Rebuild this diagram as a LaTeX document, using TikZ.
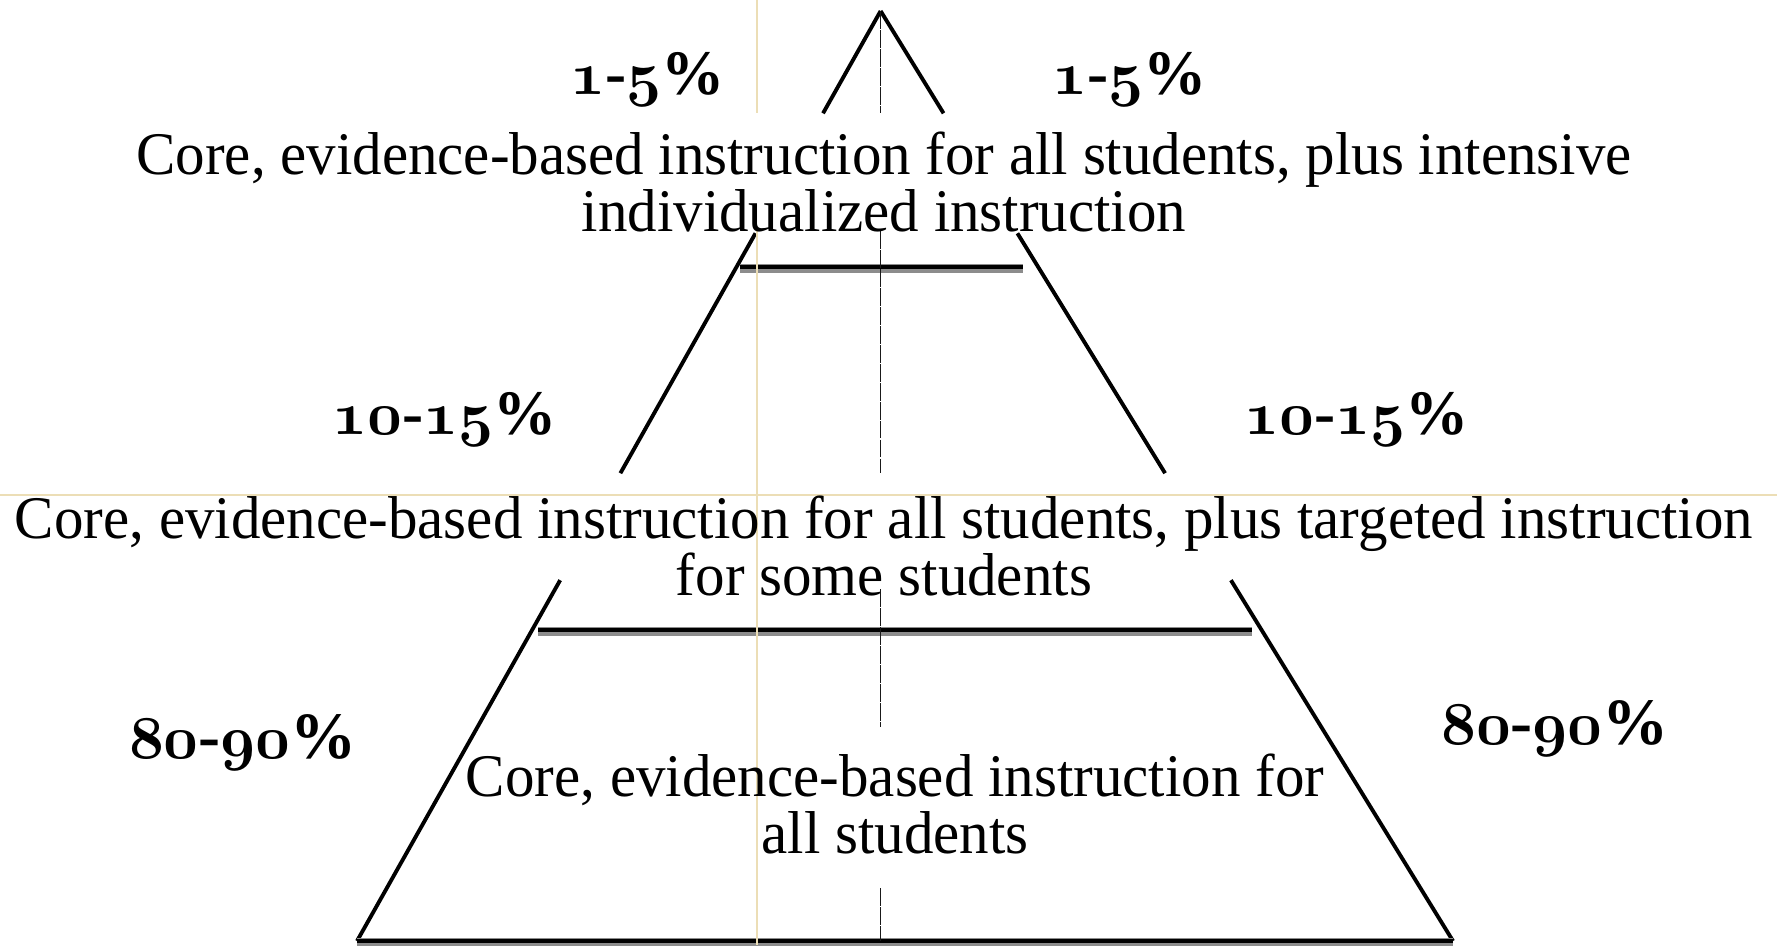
\documentclass[tikz,border=0pt]{standalone}
\usepackage{fontspec}
\setmainfont{Liberation Serif}
\usetikzlibrary{calc}

% bold old-style figures for the share labels
\newcommand{\osnum}[1]{{\usefont{OML}{cmm}{b}{it}#1}}
\newcommand{\share}[2]{\osnum{#1}-\osnum{#2}\%}

\definecolor{guidetan}{RGB}{236,222,182}

\tikzstyle{tier} = [align=center, font=\fontsize{17.2}{16.4}\selectfont, xscale=0.975, inner sep=0pt]
\tikzstyle{pct} = [font=\fontsize{18}{18}\selectfont\bfseries, inner sep=0pt]
\tikzstyle{bigpct} = [font=\fontsize{18.8}{18.8}\selectfont\bfseries, inner sep=0pt]
\tikzstyle{side} = [line width=1.1pt]
\tikzstyle{shadow} = [black!45, line width=2.4pt]
\tikzstyle{shelf} = [line width=1.3pt]
\tikzstyle{axis} = [black!90, line width=0.45pt, dash pattern=on 5pt off 0.4pt]
\tikzstyle{guide} = [guidetan, line width=0.4pt]

\begin{document}
\begin{tikzpicture}[x=0.01cm, y=-0.01cm]
\useasboundingbox (0,0) rectangle (1777,945);

\coordinate (apex) at (880.6,11);
\coordinate (bl) at (357,941);
\coordinate (br) at (1453,941);

% pyramid sides, broken where the tier texts run across
\draw [side] (apex) -- ($(apex)!0.11!(bl)$);
\draw [side] (apex) -- ($(apex)!0.11!(br)$);
\draw [side] ($(apex)!0.239!(bl)$) -- ($(apex)!0.497!(bl)$);
\draw [side] ($(apex)!0.239!(br)$) -- ($(apex)!0.497!(br)$);
\draw [side] ($(apex)!0.612!(bl)$) -- (bl);
\draw [side] ($(apex)!0.612!(br)$) -- (br);

% tier floors
\draw [shadow] (740,268.5) -- (1023,268.5);
\draw [shelf] (740,267) -- (1023,267);
\draw [shadow] (538,631.5) -- (1252,631.5);
\draw [shelf] (538,630) -- (1252,630);
\draw [shadow] (bl) ++(0,1.5) -- ++(1096,0);
\draw [shelf] (bl) -- (br);

% centre line
\draw [axis] (apex) -- (880.6,113);
\draw [axis] (880.6,231) -- (880.6,473);
\draw [axis] (880.6,589) -- (880.6,727);
\draw [axis] (880.6,888) -- (880.6,941);

% guides
\draw [guide] (757,0) -- (757,113);
\draw [guide] (757,227) -- (757,945);
\draw [guide] (0,495) -- (1777,495);

\node (t1) [tier] at (884,182) {Core, evidence-based instruction for all students, plus intensive\\individualized instruction};
\node (t2) [tier] at (884,546) {Core, evidence-based instruction for all students, plus targeted instruction\\for some students};
\node (t3) [tier] at (895,804) {Core, evidence-based instruction for\\all students};

\node (p1l) [pct] at (648,79) {\share{1}{5}};
\node (p1r) [pct] at (1130,79) {\share{1}{5}};
\node (p2l) [pct] at (445,419) {\share{10}{15}};
\node (p2r) [pct] at (1357,419) {\share{10}{15}};
\node (p3l) [bigpct] at (243,742) {\share{80}{90}};
\node (p3r) [bigpct] at (1555,728) {\share{80}{90}};

\end{tikzpicture}
\end{document}
